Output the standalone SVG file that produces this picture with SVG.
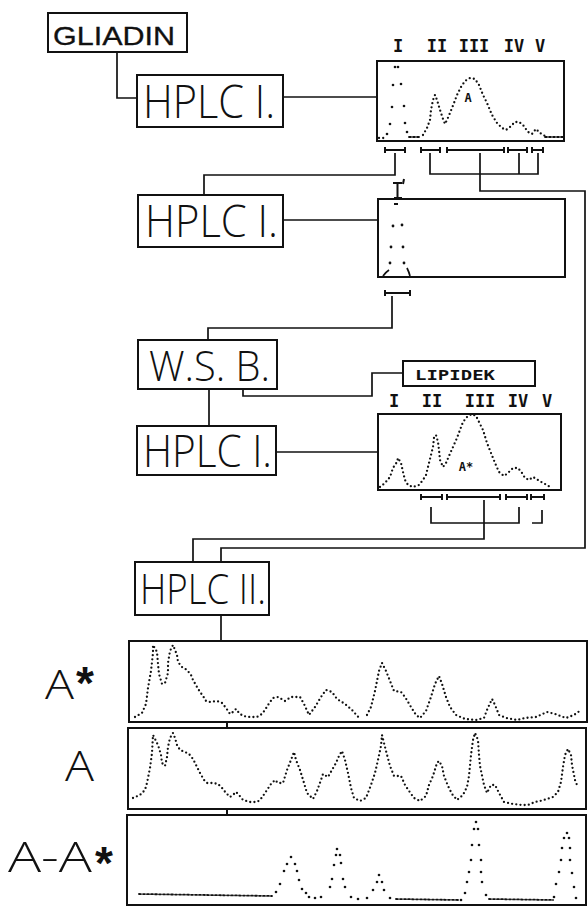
<svg xmlns="http://www.w3.org/2000/svg" width="588" height="907" viewBox="0 0 588 907">
<style>
.box{fill:none;stroke:#111;stroke-width:2}
.ln{fill:none;stroke:#111;stroke-width:1.7}
.bar{fill:none;stroke:#111;stroke-width:2}
.dot{fill:none;stroke:#111;stroke-width:2.3;stroke-linecap:round;stroke-dasharray:0 4.2}
.dense{fill:none;stroke:#111;stroke-width:1.8;stroke-linecap:round;stroke-dasharray:2 2}
.pt{fill:#111}
.big{font-family:"Open Sans","Liberation Sans",Arial,sans-serif;font-weight:300;fill:#111}
.star{font-family:"Liberation Sans",Arial,sans-serif;font-weight:bold;fill:#111}
.mono{font-family:"DejaVu Sans Mono","Liberation Mono",monospace;font-weight:bold;fill:#111}
</style>
<rect width="588" height="907" fill="#fff"/>

<g id="connectors">
  <path class="ln" d="M117,52 V98 H137"/>
  <path class="ln" d="M283,97 H377"/>
  <path class="ln" d="M395,153 V175 H204 V195"/>
  <path class="ln" d="M430,153 V174 H538 V153 M519,153 V174"/>
  <path class="ln" d="M480,153 V191 H585 V548 H221 V562"/>
  <path class="ln" d="M283,220 H378"/>
  <path class="ln" d="M392,296 V328 H208 V340"/>
  <path class="ln" d="M243,389 V396 H372 V373 H403"/>
  <path class="ln" d="M209,389 V426"/>
  <path class="ln" d="M276,452 H378"/>
  <path class="ln" d="M431,507 V523 H519 V507 M532,523 H542 V510"/>
  <path class="ln" d="M484,500 V539 H193 V562"/>
  <path class="ln" d="M221,615 V641"/>
  <path class="box" d="M227,722 V728 M227,809 V815"/>
</g>

<g id="gliadin">
  <rect class="box" x="48" y="13" width="139" height="39"/>
  <text x="53" y="45" font-family="'Liberation Sans',Arial,sans-serif" font-size="25" fill="#111" stroke="#111" stroke-width="0.3" textLength="122" lengthAdjust="spacingAndGlyphs">GLIADIN</text>
</g>

<g id="hplc1a">
  <rect class="box" x="137" y="75" width="146" height="52"/>
  <text class="big" x="143" y="118" font-size="46" textLength="132" lengthAdjust="spacingAndGlyphs">HPLC I.</text>
</g>

<g id="chrom1">
  <rect class="box" x="377" y="61" width="187" height="80"/>
  <text class="mono" font-size="17" text-anchor="middle" y="52"><tspan x="398">I</tspan><tspan x="437">II</tspan><tspan x="474">III</tspan><tspan x="514">IV</tspan><tspan x="540">V</tspan></text>
  <path class="dot" d="M379,138 H385"/>
  <g class="pt">
    <circle cx="387" cy="134" r="1.3"/><circle cx="390" cy="124" r="1.3"/><circle cx="392" cy="107" r="1.3"/><circle cx="393" cy="85" r="1.3"/>
    <circle cx="395" cy="67" r="1.3"/><circle cx="398" cy="67" r="1.3"/><circle cx="401" cy="84" r="1.3"/><circle cx="404" cy="106" r="1.3"/>
    <circle cx="405" cy="123" r="1.3"/><circle cx="407" cy="132" r="1.3"/>
  </g>
  <path class="dense" d="M409,137 H420"/>
  <path class="dot" d="M423,135 L427,128 L430,120 L431,110 L433,100 L435,95 L437,100 L440,110 L443,119 L445,124 L447,120 L450,113 L454,103 L457,95 L461,87 L465,81 L470,78 L475,79 L479,85 L483,95 L487,103 L492,115 L497,123 L502,128 L506,130 L510,127 L515,122 L519,122 L523,125 L528,132 L532,134 L536,129 L540,133 L545,136"/>
  <path class="dense" d="M545,137 H563"/>
  <text class="mono" x="468" y="102" font-size="12" text-anchor="middle">A</text>
  <path class="bar" d="M385,150 H405 M385,147 V153 M405,147 V153"/>
  <path class="bar" d="M421,150 H440 M421,147 V153 M440,147 V153"/>
  <path class="bar" d="M447,150 H504 M447,147 V153 M504,147 V153"/>
  <path class="bar" d="M508,150 H527 M508,147 V153 M527,147 V153"/>
  <path class="bar" d="M532,150 H543 M532,147 V153 M543,147 V153"/>
</g>

<g id="hplc1b">
  <rect class="box" x="138" y="195" width="145" height="52"/>
  <text class="big" x="145" y="237" font-size="45" textLength="133" lengthAdjust="spacingAndGlyphs">HPLC I.</text>
</g>

<g id="chrom2">
  <rect class="box" x="378" y="199" width="187" height="78"/>
  <path class="bar" d="M393,183 H402 M397.5,183 V197 M394,198 H402 M404,179 L403,184"/>
  <g class="pt">
    <rect x="394" y="203" width="4" height="2"/>
    <circle cx="393" cy="226" r="1.4"/><circle cx="402" cy="225" r="1.4"/>
    <circle cx="391" cy="247" r="1.4"/><circle cx="403" cy="247" r="1.4"/>
    <circle cx="390" cy="263" r="1.4"/><circle cx="404" cy="263" r="1.4"/>
  </g>
  <path class="ln" d="M383,276 Q386,272 389,270 M407,268 Q409,272 410,276"/>
  <path class="bar" d="M385,293 H410 M385,290 V296 M410,290 V296"/>
</g>

<g id="wsb">
  <rect class="box" x="138" y="340" width="139" height="49"/>
  <text class="big" x="149" y="381" font-size="42" textLength="121" lengthAdjust="spacingAndGlyphs">W.S. B.</text>
</g>

<g id="lipidek">
  <rect class="box" x="403" y="361" width="132" height="25"/>
  <text class="mono" x="415" y="380" font-size="14" textLength="80" lengthAdjust="spacingAndGlyphs">LIPIDEK</text>
</g>

<g id="hplc1c">
  <rect class="box" x="137" y="426" width="139" height="49"/>
  <text class="big" x="143" y="467" font-size="44" textLength="129" lengthAdjust="spacingAndGlyphs">HPLC I.</text>
</g>

<g id="chrom3">
  <rect class="box" x="378" y="414" width="183" height="76"/>
  <text class="mono" font-size="17" text-anchor="middle" y="407"><tspan x="394">I</tspan><tspan x="432">II</tspan><tspan x="480">III</tspan><tspan x="518">IV</tspan><tspan x="547">V</tspan></text>
  <path class="dot" d="M380,487 L385,483 L390,477 L393,468 L397,462 L398,458 L401,463 L403,472 L405,480 L408,485 L413,487 L419,485 L423,480 L426,475 L428,467 L431,455 L433,447 L434,438 L436,435 L438,442 L439,450 L440,460 L443,467 L446,463 L449,456 L453,447 L457,438 L460,430 L463,422 L467,417 L472,414 L476,416 L479,422 L483,430 L487,443 L491,453 L495,463 L499,472 L504,476 L508,473 L513,468 L518,468 L522,473 L525,478 L529,480 L533,477 L538,480 L543,483 L547,485 L550,487"/>
  <text class="mono" x="466" y="471" font-size="12" text-anchor="middle">A*</text>
  <path class="bar" d="M421,497 H442 M421,494 V500 M442,494 V500"/>
  <path class="bar" d="M447,497 H500 M447,494 V500 M500,494 V500"/>
  <path class="bar" d="M506,497 H527 M506,494 V500 M527,494 V500"/>
  <path class="bar" d="M531,497 H544 M531,494 V500 M544,494 V500"/>
</g>

<g id="hplc2">
  <rect class="box" x="135" y="562" width="134" height="53"/>
  <text class="big" x="140" y="604" font-size="43" textLength="126" lengthAdjust="spacingAndGlyphs">HPLC II.</text>
</g>

<g id="chromAstar">
  <rect class="box" x="129" y="641" width="458" height="81"/>
  <text class="big" x="45" y="699" font-size="40" textLength="29" lengthAdjust="spacingAndGlyphs">A</text>
  <text class="star" x="85" y="699" font-size="46" text-anchor="middle">*</text>
  <path class="dot" d="M135,717 L142,713 L146,704 L148,688 L151,671 L153,653 L153,645 L157,652 L158,664 L159,674 L162,684 L165,683 L168,673 L168,663 L170,651 L173,645 L175,650 L177,655 L178,662 L182,667 L187,670 L191,675 L193,680 L197,687 L200,692 L203,696 L206,701 L210,702 L217,701 L222,703 L226,708 L230,714 L233,712 L236,709 L239,713 L243,716 L250,717 L257,717 L262,714 L265,710 L268,705 L273,698 L278,697 L285,701 L291,697 L300,697 L304,704 L309,715 L315,707 L321,697 L326,690 L332,692 L337,699 L345,704 L352,710 L360,719"/>
  <path class="dot" d="M367,715 L371,707 L375,691 L379,671 L382,663 L386,671 L390,681 L394,691 L401,692 L405,697 L411,707 L416,715 L420,718 L426,711 L431,697 L435,684 L439,676 L442,684 L446,697 L450,707 L456,715 L465,719 L476,720 L484,718 L487,710 L492,699 L495,705 L499,715 L506,718 L517,720 L525,718 L536,717 L547,712 L555,714 L566,718 L574,715 L581,710"/>
</g>

<g id="chromA">
  <rect class="box" x="128" y="728" width="458" height="81"/>
  <text class="big" x="65" y="781" font-size="43" textLength="29" lengthAdjust="spacingAndGlyphs">A</text>
  <path class="dot" d="M133,798 L140,795 L145,790 L147,783 L150,768 L152,753 L153,735 L157,743 L159,748 L161,755 L162,763 L165,766 L167,757 L168,747 L170,738 L173,733 L175,738 L177,745 L180,750 L185,752 L189,754 L193,759 L197,767 L200,773 L204,780 L207,783 L213,783 L218,784 L222,788 L226,793 L230,797 L233,795 L236,792 L239,795 L243,800 L250,802 L257,802 L260,800 L263,796 L267,790 L271,784 L275,780 L278,783 L283,783 L287,770 L291,760 L294,752 L296,760 L300,770 L304,783 L307,793 L313,799 L317,791 L321,780 L323,774 L328,777 L332,770 L336,763 L339,756 L342,751 L345,760 L348,773 L351,788 L354,798 L360,801 L366,798 L371,785 L375,773 L378,760 L381,746 L382,735 L384,743 L386,751 L390,766 L394,776 L401,776 L405,785 L409,791 L414,798 L420,801 L426,796 L429,785 L433,776 L437,763 L439,761 L442,766 L444,776 L448,786 L452,794 L457,800 L463,795 L467,787 L469,776 L471,755 L473,740 L475,733 L478,740 L479,755 L480,766 L484,785 L487,793 L491,785 L495,785 L499,793 L504,802 L513,804 L522,805 L528,805 L535,802 L540,801 L547,799 L553,797 L558,792 L561,782 L563,767 L565,755 L568,749 L571,755 L572,765 L575,780 L577,785"/>
</g>

<g id="chromDiff">
  <rect class="box" x="127" y="815" width="459" height="90"/>
  <text class="big" x="8" y="872" font-size="42" textLength="84" lengthAdjust="spacingAndGlyphs">A-A</text>
  <text class="star" x="104" y="879" font-size="46" text-anchor="middle">*</text>
  <path class="dense" d="M139,894 L272,896"/>
  <path class="dense" d="M396,899 L459,900"/>
  <path class="dense" d="M489,899 L553,900"/>
  <g class="pt">
    <circle cx="276" cy="892" r="1.3"/><circle cx="280" cy="884" r="1.3"/><circle cx="284" cy="871" r="1.3"/><circle cx="287" cy="864" r="1.3"/>
    <circle cx="291" cy="857" r="1.3"/><circle cx="295" cy="864" r="1.3"/><circle cx="297" cy="871" r="1.3"/><circle cx="299" cy="880" r="1.3"/>
    <circle cx="302" cy="889" r="1.3"/><circle cx="306" cy="893" r="1.3"/><circle cx="309" cy="897" r="1.3"/><circle cx="315" cy="898" r="1.3"/>
    <circle cx="321" cy="897" r="1.3"/><circle cx="330" cy="887" r="1.3"/><circle cx="332" cy="879" r="1.3"/><circle cx="334" cy="865" r="1.3"/>
    <circle cx="336" cy="855" r="1.3"/><circle cx="337" cy="849" r="1.3"/><circle cx="340" cy="855" r="1.3"/><circle cx="341" cy="863" r="1.3"/>
    <circle cx="343" cy="879" r="1.3"/><circle cx="345" cy="887" r="1.3"/><circle cx="351" cy="897" r="1.3"/><circle cx="358" cy="899" r="1.3"/>
    <circle cx="367" cy="898" r="1.3"/><circle cx="373" cy="890" r="1.3"/><circle cx="377" cy="882" r="1.3"/><circle cx="379" cy="875" r="1.3"/>
    <circle cx="382" cy="882" r="1.3"/><circle cx="384" cy="890" r="1.3"/><circle cx="390" cy="898" r="1.3"/>
    <circle cx="461" cy="900" r="1.3"/><circle cx="465" cy="893" r="1.3"/><circle cx="467" cy="882" r="1.3"/><circle cx="469" cy="872" r="1.3"/>
    <circle cx="471" cy="860" r="1.3"/><circle cx="472" cy="845" r="1.3"/><circle cx="474" cy="829" r="1.3"/><circle cx="476" cy="822" r="1.3"/>
    <circle cx="478" cy="829" r="1.3"/><circle cx="479" cy="845" r="1.3"/><circle cx="481" cy="860" r="1.3"/><circle cx="481" cy="872" r="1.3"/>
    <circle cx="482" cy="882" r="1.3"/><circle cx="486" cy="895" r="1.3"/>
    <circle cx="554" cy="897" r="1.3"/><circle cx="556" cy="884" r="1.3"/><circle cx="559" cy="872" r="1.3"/><circle cx="561" cy="860" r="1.3"/>
    <circle cx="562" cy="848" r="1.3"/><circle cx="564" cy="838" r="1.3"/><circle cx="567" cy="833" r="1.3"/><circle cx="569" cy="838" r="1.3"/>
    <circle cx="570" cy="848" r="1.3"/><circle cx="570" cy="860" r="1.3"/><circle cx="572" cy="873" r="1.3"/><circle cx="574" cy="887" r="1.3"/>
    <circle cx="576" cy="898" r="1.3"/>
  </g>
</g>
</svg>
